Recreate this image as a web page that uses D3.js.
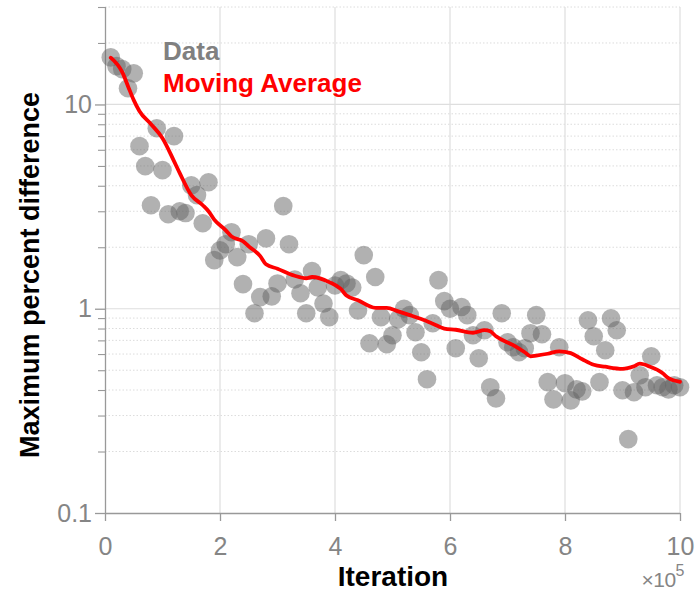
<!DOCTYPE html>
<html>
<head>
<meta charset="utf-8">
<script src="https://cdn.jsdelivr.net/npm/d3@7"></script>
<style>
  html, body { margin: 0; padding: 0; background: #fff; }
  svg { display: block; font-family: "Liberation Sans", Arial, Helvetica, sans-serif; }
</style>
</head>
<body>
<svg id="chart" width="696" height="596"></svg>
<script>
// Iteration index (units of 1e5) for every sample
const iterations = d3.range(1, 101).map(k => k / 10);

// Maximum percent difference at each sampled iteration
const maxPercentDiff = [
  17.0, 15.4, 14.9, 12.0, 14.2, 6.25, 4.99, 3.21, 7.65, 4.77,
  2.90, 7.0, 3.00, 2.94, 4.02, 3.60, 2.62, 4.16, 1.73, 1.93,
  2.07, 2.37, 1.79, 1.32, 2.07, 0.95, 1.14, 2.21, 1.15, 1.33,
  3.18, 2.07, 1.39, 1.19, 0.95, 1.53, 1.27, 1.06, 0.91, 1.30,
  1.38, 1.33, 1.27, 0.98, 1.83, 0.678, 1.43, 0.91, 0.67, 0.742,
  0.888, 1.0, 0.93, 0.767, 0.612, 0.452, 0.849, 1.38, 1.09, 1.0,
  0.641, 1.02, 0.93, 0.742, 0.572, 0.785, 0.413, 0.364, 0.95, 0.685,
  0.648, 0.612, 0.641, 0.759, 0.93, 0.75, 0.437, 0.36, 0.648, 0.432,
  0.356, 0.403, 0.394, 0.878, 0.733, 0.437, 0.626, 0.898, 0.785, 0.399,
  0.23, 0.39, 0.472, 0.413, 0.585, 0.422, 0.413, 0.403, 0.422, 0.413
];

// Moving average of the same quantity
const avgIterations = [
  0.1, 0.3, 0.4, 0.5, 0.6, 0.8, 1.0, 1.2, 1.3, 1.5,
  1.7, 1.8, 1.9, 2.1, 2.2, 2.4, 2.5, 2.7, 2.8, 3.0,
  3.3, 3.5, 3.6, 3.9, 4.1, 4.2, 4.4, 4.7, 4.9, 5.1,
  5.3, 5.5, 5.7, 5.9, 6.1, 6.4, 6.6, 6.7, 6.8, 7.1,
  7.3, 7.4, 7.5, 7.7, 7.9, 8.1, 8.3, 8.5, 8.7, 9.0,
  9.2, 9.3, 9.5, 9.6, 9.7, 9.8, 10.0
];
const movingAverage = [
  16.95, 14.39, 12.29, 10.5, 9.27, 8.01, 6.84, 5.28, 4.61, 3.60,
  3.21, 3.00, 2.73, 2.42, 2.26, 2.14, 2.02, 1.81, 1.65, 1.57,
  1.45, 1.41, 1.43, 1.35, 1.25, 1.16, 1.10, 1.01, 1.01, 0.97,
  0.93, 0.89, 0.845, 0.80, 0.789, 0.763, 0.785, 0.775, 0.733, 0.663,
  0.612, 0.585, 0.59, 0.602, 0.619, 0.606, 0.566, 0.532, 0.52, 0.508,
  0.523, 0.538, 0.517, 0.503, 0.483, 0.457, 0.439
];

const xTickValues = [0, 2, 4, 6, 8, 10];
const yMajorTicks = [0.1, 1, 10];
const yTickLabels = ["0.1", "1", "10"];

const svg = d3.select("#chart");
const plotLeft = 105, plotRight = 680, plotTop = 7, plotBottom = 513;

const x = d3.scaleLinear().domain([0, 10]).range([plotLeft, plotRight]);
const y = d3.scaleLog().domain([0.1, 30]).range([plotBottom, plotTop]);

// minor log ticks (2..9 of each decade)
const yMinor = [];
[0.1, 1, 10].forEach(d => {
  for (let m = 2; m <= 9; m++) {
    const v = d * m;
    if (v <= 30) yMinor.push(v);
  }
});

const grid = svg.append("g");
grid.selectAll("line.minor").data(yMinor).join("line")
  .attr("x1", plotLeft).attr("x2", plotRight)
  .attr("y1", d => y(d)).attr("y2", d => y(d))
  .attr("stroke", "#dcdcdc").attr("stroke-width", 1)
  .attr("stroke-dasharray", "1.5,2");
grid.selectAll("line.major").data([1, 10]).join("line")
  .attr("x1", plotLeft).attr("x2", plotRight)
  .attr("y1", d => y(d)).attr("y2", d => y(d))
  .attr("stroke", "#dedede").attr("stroke-width", 1.2);
grid.selectAll("line.vert").data(xTickValues.slice(1)).join("line")
  .attr("x1", d => x(d)).attr("x2", d => x(d))
  .attr("y1", plotTop).attr("y2", plotBottom)
  .attr("stroke", "#dedede").attr("stroke-width", 1.2);

// axes
const tickColor = "#858585";
const tickFont = 25;
const xAxis = d3.axisBottom(x).tickValues(xTickValues).tickFormat(d3.format("d"))
  .tickSize(8).tickPadding(16);
const gx = svg.append("g").attr("transform", `translate(0,${plotBottom})`).call(xAxis);
gx.select(".domain").attr("stroke", "#999").attr("stroke-width", 1.3)
  .attr("d", `M${plotLeft},0.5H${plotRight}`);
gx.selectAll(".tick line").attr("stroke", "#999").attr("stroke-width", 1.3);
gx.selectAll(".tick text").attr("fill", tickColor).attr("font-size", tickFont)
  .attr("font-family", "Liberation Sans, Arial, sans-serif");

const yAxis = d3.axisLeft(y).tickValues(yMajorTicks)
  .tickFormat((d, i) => yTickLabels[i]).tickSize(10).tickPadding(3);
const gy = svg.append("g").attr("transform", `translate(${plotLeft},0)`).call(yAxis);
gy.select(".domain").attr("stroke", "#999").attr("stroke-width", 1.3)
  .attr("d", `M0.5,${plotTop}V${plotBottom}`);
gy.selectAll(".tick line").attr("stroke", "#999").attr("stroke-width", 1.3);
gy.selectAll(".tick text").attr("fill", tickColor).attr("font-size", tickFont)
  .attr("font-family", "Liberation Sans, Arial, sans-serif");
const yAxisMinor = d3.axisLeft(y).tickValues(yMinor).tickFormat("").tickSize(7);
const gym = svg.append("g").attr("transform", `translate(${plotLeft},0)`).call(yAxisMinor);
gym.select(".domain").remove();
gym.selectAll(".tick line").attr("stroke", "#999").attr("stroke-width", 1.1);

// data points
const pts = iterations.map((it, i) => ({ it, v: maxPercentDiff[i] }));
svg.append("g").selectAll("circle").data(pts).join("circle")
  .attr("cx", d => x(d.it)).attr("cy", d => y(d.v)).attr("r", 9.3)
  .attr("fill", "#646464").attr("fill-opacity", 0.5);

// moving average line
const avg = avgIterations.map((it, i) => ({ it, v: movingAverage[i] }));
svg.append("path").datum(avg)
  .attr("d", d3.line().x(d => x(d.it)).y(d => y(d.v)).curve(d3.curveMonotoneX))
  .attr("fill", "none").attr("stroke", "#ff0000").attr("stroke-width", 3.8)
  .attr("stroke-linejoin", "round").attr("stroke-linecap", "round");

// legend
svg.append("text").attr("x", 163).attr("y", 60).text("Data")
  .attr("fill", "#808080").attr("font-weight", "bold").attr("font-size", 26);
svg.append("text").attr("x", 163).attr("y", 92).text("Moving Average")
  .attr("fill", "#ff0000").attr("font-weight", "bold").attr("font-size", 26);

// axis titles
svg.append("text").attr("x", 393).attr("y", 586).attr("text-anchor", "middle")
  .text("Iteration").attr("font-weight", "bold").attr("font-size", 28).attr("fill", "#000");
svg.append("text").attr("transform", "translate(39,275) rotate(-90)")
  .attr("text-anchor", "middle").text("Maximum percent difference")
  .attr("font-weight", "bold").attr("font-size", 27).attr("fill", "#000");

// exponent label
const ex = svg.append("text").attr("x", 684).attr("y", 587).attr("fill", tickColor)
  .attr("font-size", 21).attr("text-anchor", "end").attr("letter-spacing", -0.5);
ex.append("tspan").text("×10");
ex.append("tspan").attr("dy", -11).attr("font-size", 16).text("5");
</script>
</body>
</html>
